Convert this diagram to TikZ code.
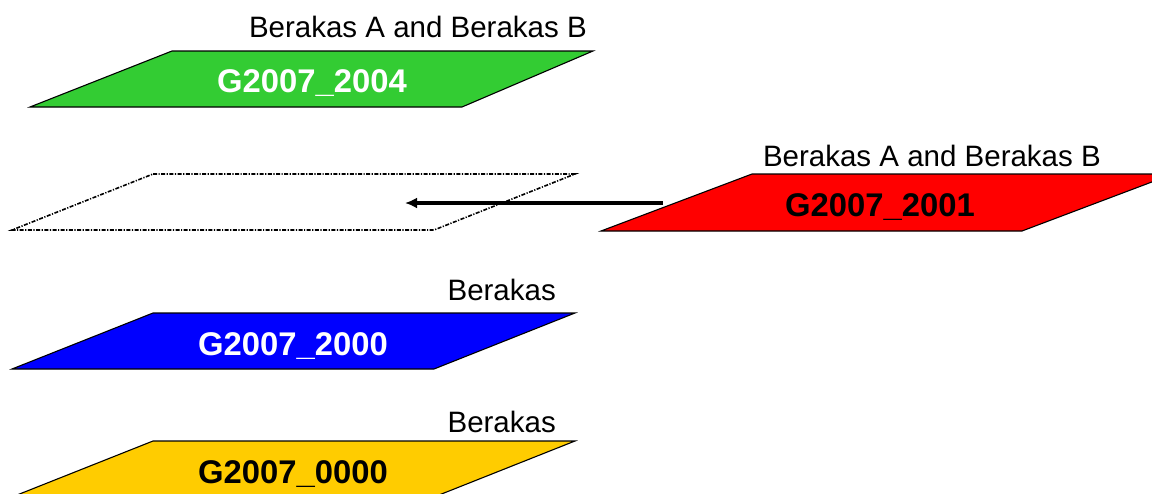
\documentclass[tikz,border=0pt]{standalone}
\usepackage{fontspec}
\setmainfont{Liberation Sans}
\usetikzlibrary{arrows.meta}
\definecolor{layergreen}{RGB}{51,204,51}
\definecolor{layerred}{RGB}{255,0,0}
\definecolor{layerblue}{RGB}{0,0,255}
\definecolor{layeryellow}{RGB}{255,204,0}
\begin{document}
\begin{tikzpicture}[
  x=1pt, y=-1pt,
  layer/.style={draw=black, line width=1.1pt},
  ghost/.style={draw=black, line width=1.6pt, dash pattern=on 4pt off 1.5pt on 1.2pt off 1.5pt},
  tag/.style={font=\fontsize{29.5}{34}\selectfont, anchor=base east, inner sep=0pt},
  gname/.style={font=\fontsize{32.8}{38}\selectfont\bfseries, anchor=base, inner sep=0pt},
]
\useasboundingbox (0,0) rectangle (1152,493);
\clip (0,0) rectangle (1152,493);
% top layer
\draw[layer, fill=layergreen] (172,51) -- (593,51) -- (462,107) -- (30,107) -- cycle;
\node[tag] (tag4) at (587,37) {Berakas A and Berakas B};
\node[gname, text=white] (g2004) at (312,92) {G2007\_2004};
% empty slot
\draw[ghost] (153,174) -- (575,174) -- (434,230) -- (12,230) -- cycle;
% moved layer
\draw[layer, fill=layerred] (752,174) -- (1173,174) -- (1022,231) -- (601,231) -- cycle;
\node[tag] (tag1) at (1101,166) {Berakas A and Berakas B};
\node[gname, text=black] (g2001) at (880,216) {G2007\_2001};
\coordinate (src) at (663,203);
\coordinate (dst) at (405,203);
\draw[line width=3.2pt, -{Latex[length=12pt,width=11pt]}] (src) -- (dst);
% lower layers
\draw[layer, fill=layerblue] (153,313) -- (575,313) -- (434,369) -- (12,369) -- cycle;
\node[tag] (tag0) at (556,300) {Berakas};
\node[gname, text=white] (g2000) at (293,355) {G2007\_2000};
\draw[layer, fill=layeryellow] (153,441) -- (575,441) -- (434,497) -- (12,497) -- cycle;
\node[tag] (tagb) at (556,432) {Berakas};
\node[gname, text=black] (g0000) at (293,483) {G2007\_0000};
\end{tikzpicture}
\end{document}
